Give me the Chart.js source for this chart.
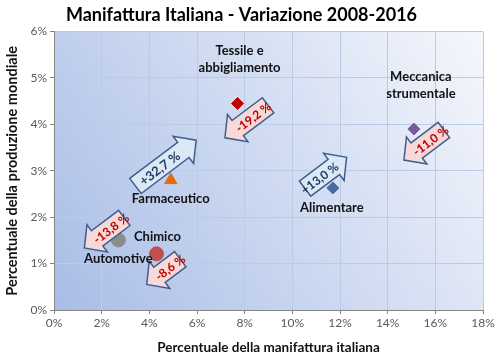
<!DOCTYPE html>
<html>
<head>
<meta charset="utf-8">
<script src="https://cdn.jsdelivr.net/npm/chart.js@4"></script>
<style>
html, body { margin: 0; padding: 0; background: #fff; }
#wrap { width: 500px; height: 360px; }
</style>
</head>
<body>
<div id="wrap"><canvas id="chart" width="500" height="360"></canvas></div>
<script>
// Dati: quota manifattura italiana (x) e quota produzione mondiale (y)
const sectors = [['Tessile e', 'abbigliamento'], ['Meccanica', 'strumentale'], ['Farmaceutico'], ['Alimentare'], ['Chimico'], ['Automotive']];
const italianShare = [7.7, 15.1, 4.9, 11.7, 4.3, 2.7];
const worldShare = [4.45, 3.9, 2.8, 2.63, 1.21, 1.51];
const variation = [-19.2, -11.0, 32.7, 13.0, -8.6, -13.8];
const xTicks = [0, 2, 4, 6, 8, 10, 12, 14, 16, 18];
const yTicks = [0, 1, 2, 3, 4, 5, 6];

// Stili dei punti
const pointColors = ['#c00000', '#7a5c9a', '#e36c0a', '#4a6aa0', '#c0504d', '#8c8c8c'];
const pointShapes = ['rectRot', 'rectRot', 'triangle', 'rectRot', 'circle', 'circle'];
const pointSizes = [6, 6, 7, 6, 7, 7];

// Posizione etichette e frecce rispetto al punto (in pixel)
const labelOffsets = [[2, -36], [7, -35], [0, 19], [-1, 20], [1, -17], [0, 19]];
const arrowOffsets = [[9, 18], [10, 16], [-5, -17], [-7, -15], [7, 18], [-14, -7]];
const arrowLengths = [54, 50, 76, 52, 42, 50];

const FONT = 'Lato, "Open Sans", sans-serif';

function fmtVar(v) {
    return (v > 0 ? '+' : '') + v.toFixed(1).replace('.', ',') + ' %';
}

function drawArrow(ctx, cx, cy, len, up, text, big) {
    const ang = 37 * Math.PI / 180;
    const dir = up ? -ang : Math.PI - ang;
    const bw = 9.5, hw = 17, hl = 16, h = len / 2;
    ctx.save();
    ctx.translate(cx, cy);
    ctx.rotate(dir);
    ctx.beginPath();
    ctx.moveTo(-h, -bw);
    ctx.lineTo(h - hl, -bw);
    ctx.lineTo(h - hl, -hw);
    ctx.lineTo(h, 0);
    ctx.lineTo(h - hl, hw);
    ctx.lineTo(h - hl, bw);
    ctx.lineTo(-h, bw);
    ctx.closePath();
    ctx.fillStyle = up ? '#dbe9f4' : '#f6d9d8';
    ctx.fill();
    ctx.lineWidth = 1.5;
    ctx.strokeStyle = '#3e5f8e';
    ctx.stroke();
    // testo sempre leggibile dal basso verso l'alto
    ctx.translate(-hl / 2, 0);
    if (!up) ctx.rotate(Math.PI);
    ctx.fillStyle = up ? '#1f3864' : '#c00000';
    ctx.font = 'bold ' + (big ? 13 : 12) + 'px ' + FONT;
    ctx.textAlign = 'center';
    ctx.textBaseline = 'middle';
    ctx.fillText(text, 0, 1);
    ctx.restore();
}

const plotBackground = {
    id: 'plotBackground',
    beforeDraw(chart) {
        const { ctx, chartArea: a } = chart;
        const g = ctx.createLinearGradient(a.left, a.bottom, a.right, a.top);
        g.addColorStop(0, '#a8bde6');
        g.addColorStop(1, '#f5f7fc');
        ctx.save();
        ctx.fillStyle = g;
        ctx.fillRect(a.left, a.top, a.right - a.left, a.bottom - a.top);
        ctx.restore();
    }
};

const annotations = {
    id: 'annotations',
    afterDatasetsDraw(chart) {
        const { ctx, scales } = chart;
        sectors.forEach((lines, i) => {
            const px = scales.x.getPixelForValue(italianShare[i]);
            const py = scales.y.getPixelForValue(worldShare[i]);
            // etichetta
            ctx.save();
            ctx.font = 'bold 13px ' + FONT;
            ctx.fillStyle = '#111';
            ctx.textAlign = 'center';
            ctx.textBaseline = 'middle';
            const [ox, oy] = labelOffsets[i];
            const start = oy < 0 ? oy - (lines.length - 1) * 17 : oy;
            lines.forEach((l, k) => ctx.fillText(l, px + ox, py + start + k * 17));
            ctx.restore();
            // freccia
            const [ax, ay] = arrowOffsets[i];
            drawArrow(ctx, px + ax, py + ay, arrowLengths[i], variation[i] > 0, fmtVar(variation[i]), Math.abs(variation[i]) > 30);
        });
    }
};

new Chart(document.getElementById('chart'), {
    type: 'scatter',
    data: {
        datasets: [{
            data: italianShare.map((x, i) => ({ x: x, y: worldShare[i] })),
            backgroundColor: pointColors,
            borderColor: pointColors,
            pointStyle: pointShapes,
            pointRadius: pointSizes,
            pointHoverRadius: pointSizes
        }]
    },
    options: {
        responsive: false,
        animation: false,
        layout: { padding: { left: 0, right: 17, top: 0, bottom: 0 } },
        plugins: {
            legend: { display: false },
            tooltip: { enabled: false },
            title: {
                display: true,
                text: 'Manifattura Italiana - Variazione 2008-2016',
                color: '#000',
                font: { family: FONT, size: 18, weight: 'bold' },
                padding: { top: 4, bottom: 6 }
            }
        },
        scales: {
            x: {
                type: 'linear',
                min: 0, max: 18,
                afterBuildTicks: s => { s.ticks = xTicks.map(v => ({ value: v })); },
                afterFit: s => { s.height = 50; },
                ticks: { color: '#595959', font: { family: FONT, size: 12 }, callback: v => v + '%', padding: 2 },
                grid: { color: '#b9cbe6', tickColor: '#868686', tickLength: 4 },
                border: { color: '#868686' },
                title: { display: true, text: 'Percentuale della manifattura italiana', color: '#111', font: { family: FONT, size: 13.5, weight: 'bold' }, padding: { top: 0 } }
            },
            y: {
                min: 0, max: 6,
                afterBuildTicks: s => { s.ticks = yTicks.map(v => ({ value: v })); },
                afterFit: s => { s.width = 54; },
                ticks: { color: '#595959', font: { family: FONT, size: 12 }, callback: v => v + '%', padding: 3 },
                grid: { color: '#b9cbe6', tickColor: '#868686', tickLength: 4 },
                border: { color: '#868686' },
                title: { display: true, text: 'Percentuale della produzione mondiale', color: '#111', font: { family: FONT, size: 14.5, weight: 'bold' }, padding: { bottom: 0 } }
            }
        }
    },
    plugins: [plotBackground, annotations]
});
</script>
</body>
</html>
